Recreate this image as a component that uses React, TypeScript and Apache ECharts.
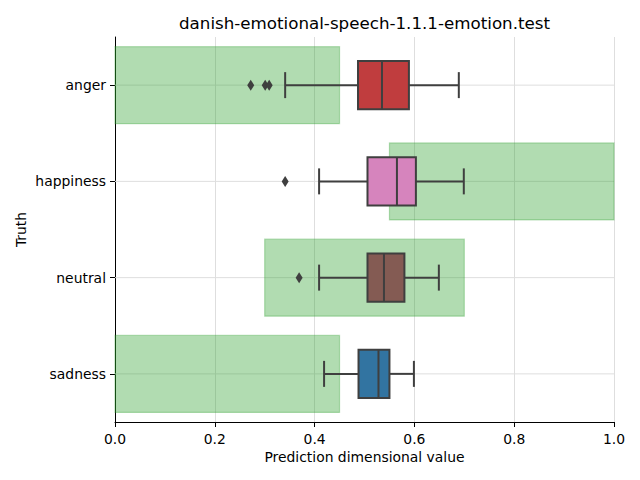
import React, { useEffect, useRef } from "react";
import * as echarts from "echarts";

const categories = ["anger", "happiness", "neutral", "sadness"];
const whiskerLow = [0.341, 0.409, 0.409, 0.419];
const q1 = [0.487, 0.506, 0.506, 0.488];
const median = [0.535, 0.565, 0.539, 0.528];
const q3 = [0.589, 0.603, 0.58, 0.55];
const whiskerHigh = [0.689, 0.699, 0.649, 0.599];
const outlierValues = [0.272, 0.301, 0.309, 0.341, 0.369];
const outlierCategories = ["anger", "anger", "anger", "happiness", "neutral"];
const rangeStart = [0, 0.55, 0.3, 0];
const rangeEnd = [0.45, 1.0, 0.7, 0.45];
const boxColors = ["#c03d3e", "#d684bd", "#845b53", "#3274a1"];

const FONT = "DejaVu Sans";
const LINE = "#3f3f3f";

export default function App() {
  const ref = useRef<HTMLDivElement>(null);
  useEffect(() => {
    const chart = echarts.init(ref.current!, null, { renderer: "svg" });
    const rangeData = categories.map((c, i) => [i, rangeStart[i], rangeEnd[i]]);
    const boxData = categories.map((c, i) => [
      i,
      whiskerLow[i],
      q1[i],
      median[i],
      q3[i],
      whiskerHigh[i],
    ]);
    const outlierData = outlierValues.map((v, i) => [v, outlierCategories[i]]);

    chart.setOption({
      animation: false,
      backgroundColor: "#ffffff",
      textStyle: { fontFamily: FONT },
      grid: { left: 115, right: 26, top: 37, bottom: 58, containLabel: false },
      xAxis: {
        type: "value",
        min: 0,
        max: 1,
        interval: 0.2,
        axisLine: { show: true, onZero: false, lineStyle: { color: "#000", width: 1 } },
        axisTick: { show: true, length: 5, lineStyle: { color: "#000" } },
        axisLabel: {
          margin: 10,
          fontSize: 13.9,
          color: "#000",
          fontFamily: FONT,
          formatter: (v: number) => v.toFixed(1),
        },
        splitLine: { show: true, lineStyle: { color: "#dedede", width: 1 } },
      },
      yAxis: {
        type: "category",
        data: categories,
        inverse: true,
        axisLine: { show: true, lineStyle: { color: "#000", width: 1 } },
        axisTick: { show: true, alignWithLabel: true, length: 5, lineStyle: { color: "#000" } },
        axisLabel: { margin: 9, fontSize: 13.9, color: "#000", fontFamily: FONT },
        splitLine: { show: false },
      },
      graphic: [
        {
          type: "text",
          x: 364.5,
          y: 23,
          style: {
            text: "danish-emotional-speech-1.1.1-emotion.test",
            fontSize: 16.7,
            fontFamily: FONT,
            fill: "#000",
            textAlign: "center",
            textVerticalAlign: "middle",
          },
        },
        {
          type: "text",
          x: 364.5,
          y: 457,
          style: {
            text: "Prediction dimensional value",
            fontSize: 13.9,
            fontFamily: FONT,
            fill: "#000",
            textAlign: "center",
            textVerticalAlign: "middle",
          },
        },
        {
          type: "text",
          x: 21,
          y: 229.5,
          rotation: Math.PI / 2,
          style: {
            text: "Truth",
            fontSize: 13.9,
            fontFamily: FONT,
            fill: "#000",
            textAlign: "center",
            textVerticalAlign: "middle",
          },
        },
      ],
      series: [
        {
          type: "custom",
          z: 1,
          clip: false,
          data: rangeData,
          encode: { y: 0, x: [1, 2] },
          renderItem: (params: any, api: any) => {
            const ci = api.value(0);
            const s = api.coord([api.value(1), ci]);
            const e = api.coord([api.value(2), ci]);
            const g0 = api.coord([0, ci]);
            const g1 = api.coord([1, ci]);
            const band = api.size([0, 1])[1];
            const h = band * 0.8;
            return {
              type: "group",
              children: [
                {
                  type: "line",
                  shape: { x1: g0[0], y1: g0[1], x2: g1[0], y2: g1[1] },
                  style: { stroke: "#dedede", lineWidth: 1 },
                },
                {
                  type: "rect",
                  shape: { x: s[0], y: s[1] - h / 2, width: e[0] - s[0], height: h },
                  style: {
                    fill: "rgba(44,160,44,0.37)",
                    stroke: "rgba(44,160,44,0.32)",
                    lineWidth: 1.2,
                  },
                },
              ],
            };
          },
        },
        {
          type: "custom",
          z: 2,
          data: boxData,
          encode: { y: 0, x: [1, 2, 3, 4, 5] },
          renderItem: (params: any, api: any) => {
            const ci = api.value(0);
            const pLow = api.coord([api.value(1), ci]);
            const pQ1 = api.coord([api.value(2), ci]);
            const pMed = api.coord([api.value(3), ci]);
            const pQ3 = api.coord([api.value(4), ci]);
            const pHigh = api.coord([api.value(5), ci]);
            const band = api.size([0, 1])[1];
            const bh = band * 0.5;
            const ch = bh * 0.54;
            const cy = pMed[1];
            const lineStyle = { stroke: LINE, lineWidth: 2 };
            return {
              type: "group",
              children: [
                {
                  type: "line",
                  shape: { x1: pLow[0], y1: cy, x2: pQ1[0], y2: cy },
                  style: lineStyle,
                },
                {
                  type: "line",
                  shape: { x1: pQ3[0], y1: cy, x2: pHigh[0], y2: cy },
                  style: lineStyle,
                },
                {
                  type: "line",
                  shape: { x1: pLow[0], y1: cy - ch / 2, x2: pLow[0], y2: cy + ch / 2 },
                  style: lineStyle,
                },
                {
                  type: "line",
                  shape: { x1: pHigh[0], y1: cy - ch / 2, x2: pHigh[0], y2: cy + ch / 2 },
                  style: lineStyle,
                },
                {
                  type: "rect",
                  shape: { x: pQ1[0], y: cy - bh / 2, width: pQ3[0] - pQ1[0], height: bh },
                  style: { fill: boxColors[ci], stroke: LINE, lineWidth: 2 },
                },
                {
                  type: "line",
                  shape: { x1: pMed[0], y1: cy - bh / 2, x2: pMed[0], y2: cy + bh / 2 },
                  style: lineStyle,
                },
              ],
            };
          },
        },
        {
          type: "scatter",
          z: 3,
          data: outlierData,
          symbol: "diamond",
          symbolSize: [7, 11],
          itemStyle: { color: LINE, opacity: 1 },
        },
      ],
    });
    return () => chart.dispose();
  }, []);
  return <div ref={ref} style={{ width: 640, height: 480, position: "absolute", left: 0, top: 0 }} />;
}
